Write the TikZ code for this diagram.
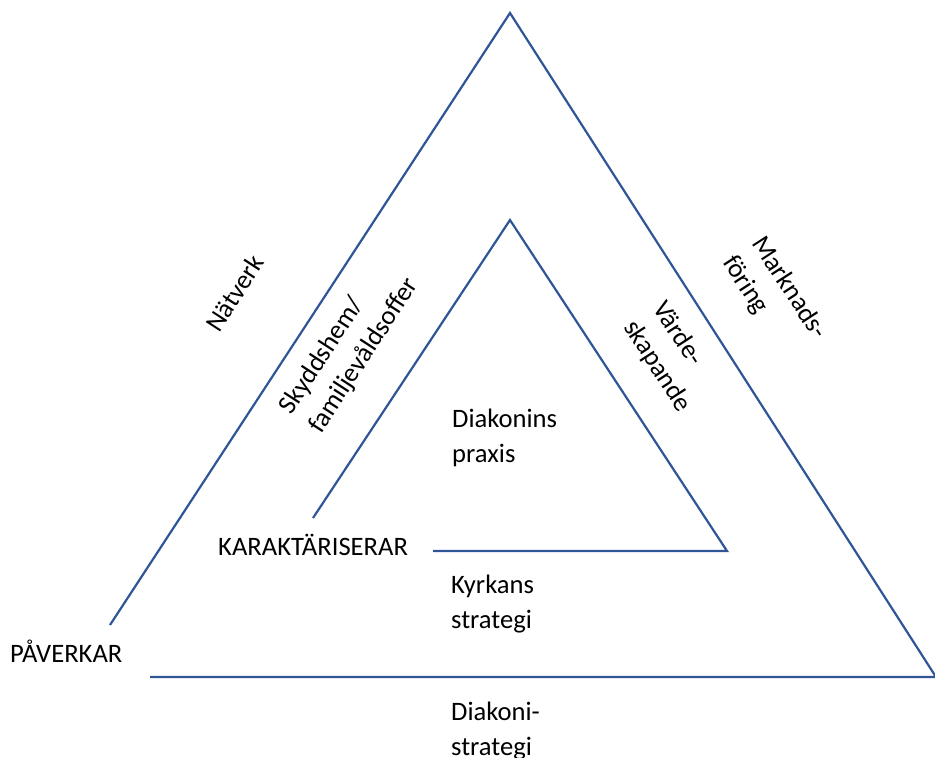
\documentclass[tikz,border=0pt]{standalone}
\usepackage{fontspec}
\setmainfont{Carlito}
\definecolor{lineblue}{RGB}{47,85,151}
\begin{document}
\begin{tikzpicture}[x=1pt,y=-1pt,
  edge/.style={draw=lineblue,line width=2.2pt,line join=miter},
  lbl/.style={font=\fontsize{26.6}{35}\selectfont,inner sep=0pt,align=left,anchor=base west}]
\useasboundingbox (0,0) rectangle (935,758);
\clip (0,0) rectangle (935,758);
% outer triangle
\coordinate (oa) at (510,13);
\coordinate (ol) at (110,625);
\coordinate (or) at (936,677);
\coordinate (ob) at (150,677);
\draw[edge] (ol) -- (oa) -- (or) -- (ob);
% inner triangle
\coordinate (ia) at (510,220);
\coordinate (il) at (313,518);
\coordinate (ir) at (727,551);
\coordinate (ib) at (433,551);
\draw[edge] (il) -- (ia) -- (ir) -- (ib);
% labels (multi-line nodes are anchored at the baseline of their last line)
\node[lbl] (paverkar) at (10,662) {PÅVERKAR};
\node[lbl] (karakt) at (218,555) {KARAKTÄRISERAR};
\node[lbl] (praxis) at (452,462) {Diakonins\\praxis};
\node[lbl] (kyrkan) at (451,628) {Kyrkans\\strategi};
\node[lbl] (dstrat) at (451,755) {Diakoni-\\strategi};
\node[lbl,rotate=57] (natverk) at (219,334) {Nätverk};
\node[lbl,rotate=57] (skydd) at (321,435) {Skyddshem/\\familjevåldsoffer};
\node[lbl,rotate=-57] (mark) at (722,262) {Marknads-\\föring};
\node[lbl,rotate=-57] (varde) at (623,327) {Värde-\\skapande};
\end{tikzpicture}
\end{document}
